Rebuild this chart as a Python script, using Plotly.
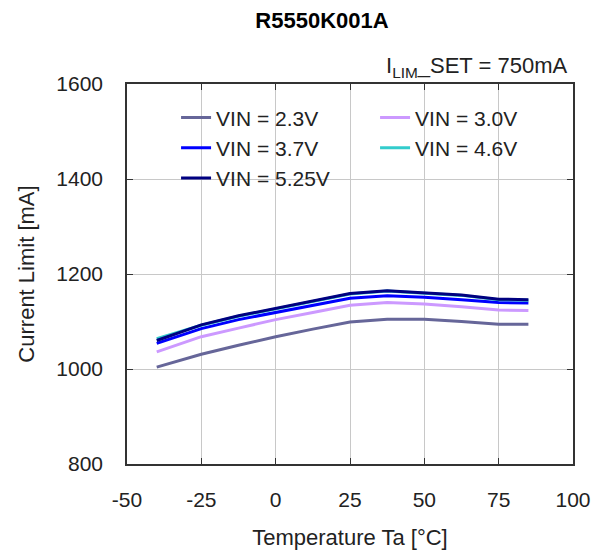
import plotly.graph_objects as go

temperature = [-40, -25, -12.5, 0, 12.5, 25, 37.5, 50, 62.5, 75, 85]
vin_2_3 = [1004, 1031, 1050, 1068, 1084, 1099, 1105, 1105, 1100, 1094, 1094]
vin_3_0 = [1036, 1068, 1086, 1104, 1119, 1134, 1140, 1137, 1131, 1124, 1123]
vin_3_7 = [1054, 1085, 1104, 1119, 1135, 1149, 1154, 1151, 1146, 1140, 1139]
vin_4_6 = [1064, 1092, 1111, 1127, 1143, 1158, 1164, 1160, 1155, 1146, 1145]
vin_5_25 = [1060, 1093, 1112, 1128, 1144, 1159, 1165, 1161, 1156, 1147, 1146]

series_names = ["VIN = 2.3V", "VIN = 3.0V", "VIN = 3.7V", "VIN = 4.6V", "VIN = 5.25V"]
series_values = [vin_2_3, vin_3_0, vin_3_7, vin_4_6, vin_5_25]
series_colors = ["#666699", "#CC99FF", "#0000FF", "#33CCCC", "#000080"]

x_ticks = [-50, -25, 0, 25, 50, 75, 100]
x_tick_labels = ["-50", "-25", "0", "25", "50", "75", "100"]
y_ticks = [800, 1000, 1200, 1400, 1600]
y_tick_labels = ["800", "1000", "1200", "1400", "1600"]

FONT = "Liberation Sans, Arial, sans-serif"

fig = go.Figure()
for name, vals, col in zip(series_names, series_values, series_colors):
    fig.add_trace(go.Scatter(x=temperature, y=vals, mode="lines", name=name,
                             line=dict(color=col, width=3)))

axis_common = dict(
    showgrid=True, gridcolor="#C8C8C8", gridwidth=1,
    showline=True, linecolor="#333333", linewidth=1.5, mirror="ticks",
    ticks="inside", ticklen=6, tickcolor="#333333",
    tickfont=dict(family=FONT, size=21, color="#222222"),
    zeroline=False, automargin=False,
)

fig.update_layout(
    width=610, height=555,
    margin=dict(l=119, r=45, t=76, b=99),
    paper_bgcolor="white", plot_bgcolor="white",
    font=dict(family=FONT, color="#222222"),
    title=dict(text="<b>R5550K001A</b>", x=314/610, xanchor="center",
               y=1 - 12/555, yanchor="middle",
               font=dict(family=FONT, size=22, color="#000000")),
    xaxis=dict(range=[-50, 100], tickvals=x_ticks, ticktext=x_tick_labels,
               ticklabelstandoff=16,
               title=dict(text="Temperature Ta [°C]", standoff=20,
                          font=dict(family=FONT, size=22, color="#222222")),
               **axis_common),
    yaxis=dict(range=[800, 1600], tickvals=y_ticks, ticktext=y_tick_labels,
               ticklabelstandoff=18,
               title=dict(text="Current Limit [mA]", standoff=16,
                          font=dict(family=FONT, size=22, color="#222222")),
               **axis_common),
    legend=dict(orientation="h", x=0.11, xanchor="left", y=0.965, yanchor="top",
                entrywidth=154, entrywidthmode="pixels",
                bgcolor="rgba(0,0,0,0)", itemwidth=30,
                font=dict(family=FONT, size=21, color="#222222")),
    showlegend=True,
)

fig.add_annotation(xref="paper", yref="paper", x=1, y=1, xanchor="right", yanchor="bottom",
                   xshift=-3, yshift=1, showarrow=False,
                   text="I<sub>LIM</sub>_SET = 750mA",
                   font=dict(family=FONT, size=22, color="#222222"))

fig.write_html("out.html")
